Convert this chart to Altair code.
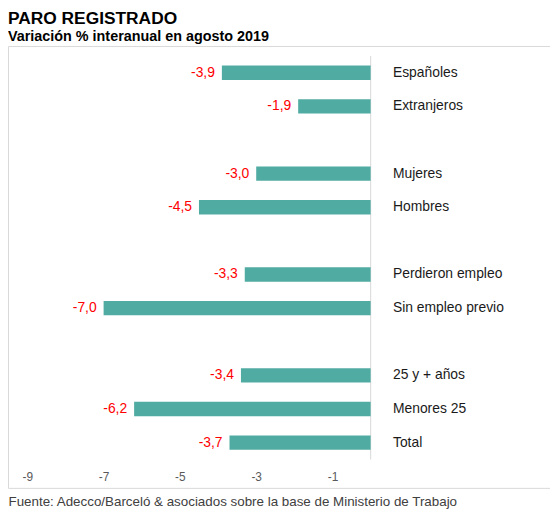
import altair as alt
import pandas as pd

# ---- data ----
categories = ["Españoles", "Extranjeros", "Mujeres", "Hombres",
              "Perdieron  empleo", "Sin empleo previo",
              "25 y + años", "Menores  25", "Total"]
values = [-3.9, -1.9, -3.0, -4.5, -3.3, -7.0, -3.4, -6.2, -3.7]
# slot order (blank slots are the gaps between groups)
slot_order = ["Españoles", "Extranjeros", " ",
              "Mujeres", "Hombres", "  ",
              "Perdieron  empleo", "Sin empleo previo", "   ",
              "25 y + años", "Menores  25", "Total"]
tick_values = [-9, -7, -5, -3, -1]

title_text = "PARO REGISTRADO"
subtitle_text = "Variación % interanual en agosto 2019"
source_text = "Fuente: Adecco/Barceló & asociados sobre la base de Ministerio de Trabajo"

FONT = "Liberation Sans, Arial, sans-serif"
W, H = 547, 446

df = pd.DataFrame({"cat": categories, "v": values})
span = pd.DataFrame({"a": [slot_order[0]], "b": [slot_order[-1]]})

xscale = alt.Scale(domain=[-9.506, 4.701], nice=False, zero=False)
yscale = alt.Scale(domain=slot_order, paddingInner=0.573, paddingOuter=0.857,
                   align=0.34, round=False)

xaxis = alt.Axis(values=tick_values, orient="bottom", offset=-11.3,
                 ticks=False, tickSize=0, domain=False, grid=False,
                 labelPadding=0, labelBaseline="middle", labelFont=FONT,
                 labelFontSize=12, labelColor="#595959",
                 labelExpr="replace(datum.label, '\u2212', '-')",
                 title=source_text, titleX=0, titleY=29.3, titleAlign="left",
                 titleBaseline="alphabetic", titleFont=FONT, titleFontSize=13.5,
                 titleFontWeight="normal", titleColor="#404040")

X = alt.X("v:Q", scale=xscale, axis=xaxis)
Y = alt.Y("cat:N", scale=yscale, axis=None)

bars = alt.Chart(df).mark_bar(color="#50ABA2").encode(x=X, y=Y)

zero_line = alt.Chart(span).mark_rule(color="#D9D9D9", strokeWidth=1,
                                      yOffset=-16.97, y2Offset=16.97).encode(
    x=alt.datum(0),
    y=alt.Y("a:N", scale=yscale, axis=None),
    y2="b:N",
)

value_labels = alt.Chart(df).transform_calculate(
    lbl="replace(replace(format(datum.v, '.1f'), '.', ','), '\u2212', '-')"
).mark_text(align="right", baseline="middle", dx=-7, color="#FF0000",
            font=FONT, fontSize=14).encode(x=X, y=Y, text="lbl:N")

cat_labels = alt.Chart(df).mark_text(align="left", baseline="middle", dx=22.5,
                                     color="#1A1A1A", font=FONT, fontSize=14).encode(
    x=alt.datum(0), y=Y, text="cat:N")

chart = alt.layer(zero_line, bars, value_labels, cat_labels).properties(
    width=W, height=H,
    padding={"left": 0, "top": 0, "right": 0, "bottom": 0},
    title=alt.TitleParams(title_text, subtitle=subtitle_text, anchor="start",
                          font=FONT, fontSize=17.5, fontWeight="bold", color="black",
                          subtitleFont=FONT, subtitleFontSize=14.5,
                          subtitleFontWeight="bold", subtitleColor="black",
                          subtitlePadding=2, offset=3),
).configure_view(stroke="#D9D9D9", strokeWidth=1)

chart.save("out.html", embed_options={"renderer": "svg", "actions": False})
